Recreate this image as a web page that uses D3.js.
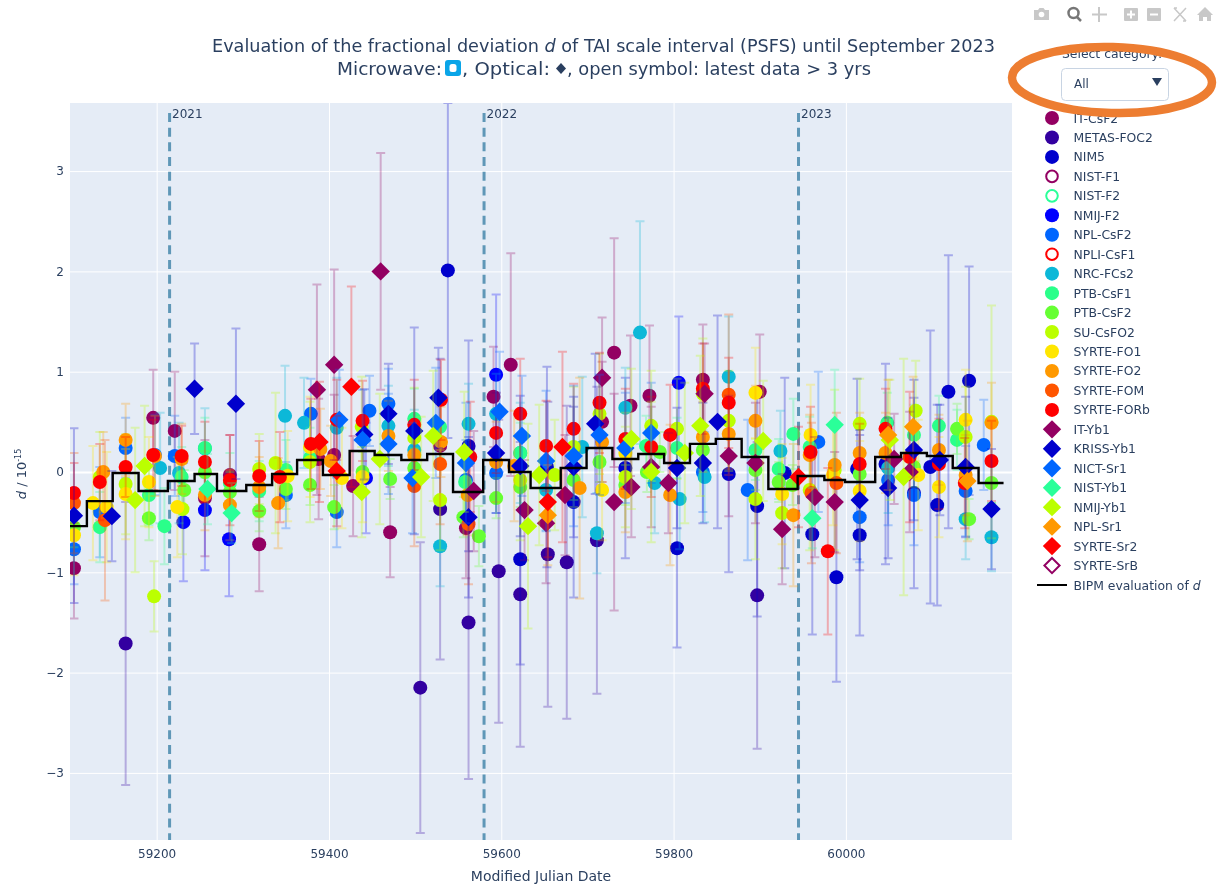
<!DOCTYPE html>
<html><head><meta charset="utf-8">
<script src="https://cdn.jsdelivr.net/npm/d3@7/dist/d3.min.js"></script>
<style>
html,body{margin:0;padding:0;background:#fff}
svg{display:block;filter:blur(0.45px)}
text{font-family:"DejaVu Sans",sans-serif;fill:#2a3f5f}
</style></head><body>
<div id="chart"></div>
<script>
const titleLine1 = ["Evaluation of the fractional deviation ", "d", " of TAI scale interval (PSFS) until September 2023"];
const xTicks = [59200, 59400, 59600, 59800, 60000];
const yTicks = [-3, -2, -1, 0, 1, 2, 3];
const yearMarks = [59215, 59580, 59945];
const yearLabels = ["2021", "2022", "2023"];

const IT_CsF2 = [[59104,-0.96,0.5],[59196,0.54,0.48],[59221,0.41,0.59],[59256,-0.26,0.58],[59285,-0.03,0.4],[59319,-0.72,0.47],[59388,0.13,0.6],[59406,0.17,0.6],[59428,-0.14,0.5],[59471,-0.6,0.45],[59529,0.26,0.5],[59559,-0.56,0.5],[59591,0.75,0.5],[59611,1.07,1.11],[59717,0.5,0.6],[59731,1.19,1.14],[59750,0.66,0.7],[59772,0.76,0.7],[59834,0.92,0.55],[59900,0.8,0.57]];
const METAS_FOC2 = [[59164,-1.71,1.41],[59506,-2.15,1.45],[59529,-0.37,1.5],[59562,-1.5,1.56],[59597,-0.99,1.51],[59622,-1.22,1.52],[59654,-0.82,1.52],[59676,-0.9,1.56],[59711,-0.68,1.53],[59897,-1.23,1.53]];
const NIM5 = [[59538,2.01,1.67],[59562,0.26,1.05],[59622,-0.87,1.05],[59653,0.05,1.0],[59684,-0.3,0.95],[59744,0.04,0.9],[59804,-0.76,0.99],[59864,-0.02,0.98],[59897,-0.34,1.1],[59929,-0.01,0.95],[59961,-0.62,1.0],[59989,-1.05,1.04],[60013,0.03,0.9],[60016,-0.63,1.0],[60046,0.08,1.0],[60079,-0.21,0.95],[60098,0.05,1.36],[60106,-0.33,1.0],[60119,0.8,1.36],[60143,0.91,1.14]];
const NIST_F1 = [];
const NIST_F2 = [];
const NMIJ_F2 = [[59231,-0.5,0.59],[59256,-0.38,0.6],[59284,-0.67,0.57],[59443,-0.06,0.55],[59594,0.97,0.8],[59806,0.89,0.66]];
const NPL_CsF2 = [[59104,-0.77,0.35],[59134,-0.4,0.45],[59164,0.24,0.3],[59198,0.17,0.4],[59221,0.16,0.4],[59350,-0.23,0.33],[59379,0.58,0.35],[59409,-0.4,0.35],[59447,0.61,0.35],[59469,0.68,0.35],[59559,-0.08,0.4],[59594,-0.01,0.4],[59834,0.0,0.4],[59886,-0.18,0.7],[59968,0.3,0.7],[60016,-0.45,0.45],[60049,-0.08,0.45],[60079,-0.23,0.5],[60139,-0.19,0.45],[60160,0.27,0.45]];
const NPLI_CsF1 = [];
const NRC_FCs2 = [[59204,0.04,0.55],[59226,-0.01,0.5],[59256,0.235,0.4],[59349,0.56,0.5],[59371,0.49,0.45],[59409,0.44,0.5],[59469,0.46,0.4],[59499,0.22,0.4],[59529,-0.74,0.4],[59562,0.48,0.4],[59594,0.58,0.4],[59622,0.19,0.5],[59652,-0.18,0.4],[59694,0.25,0.7],[59711,-0.61,0.4],[59744,0.64,0.4],[59761,1.39,1.11],[59778,-0.11,0.5],[59807,-0.27,0.5],[59836,-0.05,0.45],[59864,0.95,0.6],[59924,0.21,0.4],[60049,0.04,0.45],[60139,-0.47,0.4],[60169,-0.65,0.34]];
const PTB_CsF1 = [[59134,-0.55,0.35],[59191,-0.23,0.3],[59209,-0.54,0.38],[59229,-0.05,0.3],[59256,0.24,0.3],[59285,-0.11,0.3],[59319,-0.19,0.3],[59350,0.02,0.3],[59378,0.14,0.3],[59499,0.53,0.3],[59529,0.45,0.3],[59558,-0.1,0.35],[59622,0.19,0.3],[59768,0.26,0.3],[59804,0.24,0.3],[59895,0.22,0.3],[59922,0.03,0.3],[59939,0.38,0.35],[59958,0.25,0.3],[60048,0.49,0.3],[60079,0.37,0.3],[60108,0.46,0.3],[60129,0.32,0.3]];
const PTB_CsF2 = [[59104,-0.55,0.2],[59191,-0.46,0.22],[59232,-0.18,0.2],[59256,0.0,0.21],[59285,-0.2,0.2],[59319,-0.39,0.2],[59350,-0.17,0.2],[59378,-0.13,0.2],[59406,-0.35,0.22],[59439,0.0,0.2],[59471,-0.07,0.2],[59499,0.04,0.2],[59556,-0.45,0.2],[59574,-0.64,0.3],[59594,-0.26,0.2],[59622,-0.15,0.2],[59684,-0.08,0.2],[59714,0.1,0.2],[59744,-0.13,0.2],[59769,0.0,0.2],[59784,0.2,0.2],[59834,0.22,0.2],[59895,0.02,0.2],[59922,-0.1,0.2],[59938,-0.13,0.2],[60016,-0.02,0.2],[60079,0.05,0.2],[60129,0.43,0.25],[60143,-0.47,0.2],[60169,-0.11,0.2]];
const SU_CsFO2 = [[59134,-0.05,0.45],[59164,-0.12,0.5],[59197,-1.24,0.35],[59230,-0.37,0.45],[59319,0.03,0.35],[59338,0.09,0.7],[59378,0.1,0.6],[59438,0.45,0.5],[59499,0.34,0.5],[59529,-0.28,0.5],[59622,-0.08,0.6],[59662,-0.03,0.55],[59684,0.25,0.6],[59714,0.58,0.6],[59744,-0.05,0.5],[59774,0.46,0.55],[59804,0.43,0.5],[59834,0.78,0.55],[59864,0.51,0.5],[59895,-0.27,0.6],[59926,-0.41,0.55],[59958,-0.18,0.6],[59987,0.02,0.8],[60016,0.48,0.45],[60081,0.61,0.5],[60139,0.35,0.5],[60169,0.5,1.16]];
const SYRTE_FO1 = [[59104,-0.63,0.4],[59126,-0.31,0.57],[59142,-0.35,0.55],[59164,-0.22,0.45],[59191,-0.1,0.45],[59224,-0.35,0.5],[59352,-0.04,0.45],[59378,0.25,0.5],[59415,-0.06,0.5],[59439,-0.05,0.45],[59717,-0.18,0.5],[59744,0.19,0.4],[59895,0.79,0.45],[59926,-0.22,0.5],[59959,0.37,0.5],[59985,-0.03,0.5],[60016,-0.19,0.5],[60084,-0.03,0.55],[60108,-0.15,0.5],[60139,0.52,0.5]];
const SYRTE_FO2 = [[59138,0.0,0.4],[59164,0.32,0.36],[59198,0.16,0.4],[59229,0.13,0.35],[59256,-0.23,0.35],[59285,-0.33,0.35],[59319,-0.15,0.3],[59341,-0.31,0.45],[59390,0.23,0.4],[59402,0.11,0.35],[59469,0.36,0.35],[59499,0.17,0.3],[59530,0.3,0.35],[59561,-0.23,0.4],[59594,0.1,0.4],[59615,0.06,0.55],[59691,-0.16,1.1],[59717,0.3,0.4],[59744,-0.2,0.4],[59796,-0.23,0.7],[59834,0.35,0.35],[59864,0.38,0.35],[59895,0.51,0.35],[59939,-0.43,0.71],[59958,0.17,0.4],[59987,0.07,0.4],[60016,0.19,0.4],[60046,0.19,0.4],[60108,0.22,0.35],[60139,-0.03,0.4],[60169,0.49,0.4]];
const SYRTE_FOM = [[59104,-0.31,0.5],[59140,-0.48,0.8],[59499,-0.14,0.6],[59529,0.08,0.6],[59562,-0.52,0.6],[59864,0.77,0.8],[59960,-0.21,0.7],[59989,-0.11,0.7]];
const SYRTE_FORb = [[59104,-0.21,0.3],[59134,-0.1,0.38],[59164,0.05,0.3],[59196,0.17,0.35],[59229,0.16,0.3],[59256,0.1,0.4],[59285,-0.08,0.45],[59319,-0.04,0.35],[59343,-0.05,0.45],[59379,0.28,0.45],[59409,0.52,0.4],[59439,0.51,0.4],[59499,0.47,0.45],[59530,0.72,0.4],[59564,0.15,0.55],[59594,0.39,0.4],[59622,0.58,0.55],[59652,0.26,0.45],[59684,0.43,0.45],[59714,0.69,0.5],[59744,0.33,0.5],[59774,0.25,0.5],[59796,0.37,0.5],[59834,0.83,0.45],[59864,0.69,0.45],[59959,0.2,0.45],[59979,-0.79,0.83],[60016,0.08,0.4],[60046,0.43,0.4],[60074,0.15,0.65],[60108,0.08,0.45],[60138,-0.11,0.45],[60169,0.11,0.4]];
const IT_Yb1 = [[59386,0.82,1.05],[59406,1.07,0.95],[59460,2.0,1.18],[59568,-0.19,0.6],[59627,-0.38,0.5],[59652,-0.51,0.6],[59674,-0.23,0.6],[59717,0.94,0.6],[59731,-0.3,1.08],[59751,-0.15,0.5],[59774,0.05,0.6],[59794,-0.11,0.5],[59836,0.78,0.5],[59864,0.16,0.6],[59895,0.09,0.6],[59926,-0.57,0.55],[59964,-0.25,0.6],[59987,-0.3,0.5],[60056,0.13,0.45],[60074,0.0,0.6]];
const KRISS_Yb1 = [[59104,-0.435,0.87],[59148,-0.44,0.45],[59244,0.83,0.45],[59292,0.68,0.75],[59441,0.375,0.45],[59469,0.58,0.5],[59499,0.41,1.03],[59527,0.74,0.5],[59562,-0.45,0.8],[59594,0.19,0.6],[59622,0.06,0.7],[59684,0.05,0.7],[59709,0.48,0.7],[59804,0.04,0.6],[59834,0.09,0.6],[59851,0.5,1.06],[60016,-0.28,0.7],[60049,-0.16,0.7],[60079,0.22,0.7],[60109,0.12,0.55],[60139,0.05,0.7],[60169,-0.37,0.6]];
const NICT_Sr1 = [[59412,0.52,0.5],[59439,0.32,0.5],[59469,0.28,0.5],[59497,-0.06,0.55],[59524,0.49,0.55],[59559,0.09,0.6],[59598,0.6,0.6],[59624,0.36,0.6],[59652,0.11,0.7],[59684,0.16,0.7],[59714,0.37,0.6],[59744,0.24,0.55],[59774,0.39,0.5]];
const NIST_Yb1 = [[59259,-0.17,0.35],[59287,-0.41,0.3],[59961,-0.46,0.3],[59987,0.47,0.55]];
const NMIJ_Yb1 = [[59175,-0.28,0.72],[59186,0.06,0.6],[59438,-0.2,0.45],[59459,0.13,0.65],[59507,-0.05,0.6],[59521,0.36,0.65],[59557,0.2,0.6],[59631,-0.54,1.02],[59644,-0.03,0.7],[59751,0.33,0.7],[59774,0.0,0.7],[59813,0.19,0.7],[59831,0.46,0.7],[59904,0.31,0.6],[60051,0.32,0.6],[60067,-0.05,1.18]];
const NPL_Sr1 = [[59654,-0.43,0.5],[60049,0.37,0.55],[60078,0.45,0.5],[60141,-0.09,0.6]];
const SYRTE_Sr2 = [[59389,0.3,0.6],[59409,0.01,0.55],[59426,0.85,1.0],[59654,-0.3,0.55],[59671,0.25,0.95],[59945,-0.05,0.5]];
const SYRTE_SrB = [];

const bipmEdges = [59094,59119,59149,59179,59213,59244,59270,59304,59334,59363,59393,59424,59453,59484,59514,59544,59579,59609,59634,59669,59699,59729,59759,59789,59819,59849,59879,59910,59944,59975,59999,60034,60064,60094,60124,60154,60183];
const bipmLevels = [-0.54,-0.29,-0.01,-0.19,-0.09,-0.02,-0.19,-0.13,-0.02,0.12,-0.03,0.21,0.17,0.12,0.18,-0.2,0.12,0.0,-0.16,0.04,0.24,0.13,0.18,0.09,0.28,0.33,0.15,-0.17,-0.04,-0.08,-0.1,0.15,0.19,0.16,0.04,-0.11];

const seriesNames = ["IT-CsF2","METAS-FOC2","NIM5","NIST-F1","NIST-F2","NMIJ-F2","NPL-CsF2","NPLI-CsF1","NRC-FCs2","PTB-CsF1","PTB-CsF2","SU-CsFO2","SYRTE-FO1","SYRTE-FO2","SYRTE-FOM","SYRTE-FORb","IT-Yb1","KRISS-Yb1","NICT-Sr1","NIST-Yb1","NMIJ-Yb1","NPL-Sr1","SYRTE-Sr2","SYRTE-SrB"];
const seriesData = [IT_CsF2,METAS_FOC2,NIM5,NIST_F1,NIST_F2,NMIJ_F2,NPL_CsF2,NPLI_CsF1,NRC_FCs2,PTB_CsF1,PTB_CsF2,SU_CsFO2,SYRTE_FO1,SYRTE_FO2,SYRTE_FOM,SYRTE_FORb,IT_Yb1,KRISS_Yb1,NICT_Sr1,NIST_Yb1,NMIJ_Yb1,NPL_Sr1,SYRTE_Sr2,SYRTE_SrB];
const seriesColors = ["#930062","#3300a0","#0000cc","#930062","#2aff99","#0000ff","#0066ff","#ff0000","#0cb8d8","#2aff8a","#66ff33","#bbff00","#ffe600","#ff9900","#ff5500","#ff0000","#930062","#0000cc","#0066ff","#2aff99","#bbff00","#ff9900","#ff0000","#930062"];
const seriesShapes = ["c","c","c","co","co","c","c","co","c","c","c","c","c","c","c","c","d","d","d","d","d","d","d","do"];

const W = 1217, H = 886;
const plot = {l:70, r:1012, t:103, b:840};
const x = d3.scaleLinear().domain([59099.4,60192.8]).range([plot.l, plot.r]);
const y = d3.scaleLinear().domain([-3.669,3.679]).range([plot.b, plot.t]);
const svg = d3.select("#chart").append("svg").attr("width",W).attr("height",H).attr("viewBox",`0 0 ${W} ${H}`);
svg.append("defs").append("clipPath").attr("id","clip").append("rect").attr("x",plot.l).attr("y",plot.t).attr("width",plot.r-plot.l).attr("height",plot.b-plot.t);

svg.append("rect").attr("x",plot.l).attr("y",plot.t).attr("width",plot.r-plot.l).attr("height",plot.b-plot.t).attr("fill","#e5ecf6");

// axes and grid
const gx = svg.append("g").attr("transform",`translate(0,${plot.b})`).call(d3.axisBottom(x).tickValues(xTicks).tickFormat(d3.format("d")).tickSize(-(plot.b-plot.t)).tickPadding(9));
gx.select(".domain").remove();
gx.selectAll("line").attr("stroke","#fff").attr("stroke-width",1);
gx.selectAll("text").attr("font-size",12).style("font-family","'DejaVu Sans'").style("fill","#2a3f5f");
const gy = svg.append("g").attr("transform",`translate(${plot.l},0)`).call(d3.axisLeft(y).tickValues(yTicks).tickFormat(d=>d<0?"\u2212"+(-d):""+d).tickSize(-(plot.r-plot.l)).tickPadding(6));
gy.select(".domain").remove();
gy.selectAll("line").attr("stroke","#fff").attr("stroke-width",d=>d===0?2:1);
gy.selectAll("text").attr("font-size",12).style("font-family","'DejaVu Sans'").style("fill","#2a3f5f");

const g = svg.append("g").attr("clip-path","url(#clip)");

// year markers
g.selectAll("line.year").data(yearMarks).join("line").attr("class","year")
  .attr("x1",d=>x(d)).attr("x2",d=>x(d)).attr("y1",y(3.58)).attr("y2",plot.b)
  .attr("stroke","#5f97b7").attr("stroke-width",3).attr("stroke-dasharray","9,5.7");
g.selectAll("text.year").data(yearMarks).join("text").attr("class","year")
  .attr("x",d=>x(d)+2.5).attr("y",y(3.58)+5).attr("font-size",12).text((d,i)=>yearLabels[i]);

// series
seriesData.forEach((data,i)=>{
  const col = seriesColors[i], shp = seriesShapes[i];
  const s = g.append("g");
  const bars = s.append("g").attr("stroke",col).attr("stroke-opacity",0.28).attr("stroke-width",2).attr("fill","none");
  data.forEach(([m,v,u])=>{
    const px = x(m);
    bars.append("path").attr("d",`M${px},${y(v-u)}V${y(v+u)}M${px-4.5},${y(v+u)}H${px+4.5}M${px-4.5},${y(v-u)}H${px+4.5}`);
  });
  const sym = shp[0]==="c" ? d3.symbolCircle : d3.symbolDiamond;
  s.selectAll("path.m").data(data).join("path").attr("class","m")
    .attr("transform",d=>`translate(${x(d[0])},${y(d[1])})`)
    .attr("d",shp[0]==="c" ? d3.symbol(sym,Math.PI*49)() : `M0,-9.2L9.2,0L0,9.2L-9.2,0Z`)
    .attr("fill",col);
});

// BIPM step line
const bipmPts = bipmLevels.map((v,i)=>[bipmEdges[i],v]);
bipmPts.push([bipmEdges[bipmEdges.length-1],bipmLevels[bipmLevels.length-1]]);
g.append("path").datum(bipmPts).attr("d",d3.line().x(d=>x(d[0])).y(d=>y(d[1])).curve(d3.curveStepAfter))
  .attr("fill","none").attr("stroke","#000").attr("stroke-width",2.4);

// titles
const t1 = svg.append("text").attr("x",603.5).attr("y",52).attr("text-anchor","middle").attr("font-size",17.5).attr("textLength",783).attr("lengthAdjust","spacingAndGlyphs");
titleLine1.forEach((s,i)=>t1.append("tspan").attr("font-style",i===1?"italic":"normal").text(s));
svg.append("text").attr("x",337).attr("y",75).attr("font-size",17.5).attr("textLength",105).attr("lengthAdjust","spacingAndGlyphs").text("Microwave:");
svg.append("rect").attr("x",445).attr("y",60).attr("width",16).attr("height",16).attr("rx",3).attr("fill","#0aa5e8");
svg.append("rect").attr("x",449.5).attr("y",64).attr("width",7).attr("height",8).attr("rx",2.5).attr("fill","#fff");
svg.append("text").attr("x",462).attr("y",75).attr("font-size",17.5).attr("textLength",88).attr("lengthAdjust","spacingAndGlyphs").text(", Optical:");
svg.append("path").attr("d","M561,63L566,68.5L561,74L556,68.5Z").attr("fill","#2a3f5f");
svg.append("text").attr("x",567).attr("y",75).attr("font-size",17.5).attr("textLength",304).attr("lengthAdjust","spacingAndGlyphs").text(", open symbol: latest data > 3 yrs");

const xt = svg.append("text").attr("x",541).attr("y",881).attr("text-anchor","middle").attr("font-size",14).text("Modified Julian Date");
const yt = svg.append("text").attr("transform","translate(26,474) rotate(-90)").attr("text-anchor","middle").attr("font-size",13);
yt.append("tspan").attr("font-style","italic").text("d");
yt.append("tspan").text(" / 10");
yt.append("tspan").attr("font-size",8).attr("dy",-5).text("-15");

// legend
const legY = d3.scalePoint().domain(seriesNames.concat(["BIPM evaluation of d"])).range([118,585]);
const leg = svg.append("g");
seriesNames.forEach((n,i)=>{
  const ly = legY(n), col = seriesColors[i], shp = seriesShapes[i];
  const open = shp.length>1;
  const lg = leg.append("g").attr("transform",`translate(1052,${ly})`);
  const mk = shp[0]==="c" ? lg.append("circle").attr("r",open?5.8:7) : lg.append("path").attr("d",open?"M0,-7.6L7.6,0L0,7.6L-7.6,0Z":"M0,-9.2L9.2,0L0,9.2L-9.2,0Z");
  mk.attr("fill",open?"none":col).attr("stroke",open?col:"none").attr("stroke-width",open?2:0);
  leg.append("text").attr("x",1073.5).attr("y",ly+4.5).attr("font-size",12.4).text(n);
});
const by = legY("BIPM evaluation of d");
leg.append("line").attr("x1",1037).attr("x2",1067).attr("y1",by).attr("y2",by).attr("stroke","#000").attr("stroke-width",2);
const bt = leg.append("text").attr("x",1073.5).attr("y",by+4.5).attr("font-size",12.4);
bt.append("tspan").text("BIPM evaluation of ");
bt.append("tspan").attr("font-style","italic").text("d");

// dropdown
svg.append("text").attr("x",1062).attr("y",58).attr("font-size",12.4).text("Select category:");
svg.append("rect").attr("x",1061.5).attr("y",68.5).attr("width",107).attr("height",32).attr("rx",4).attr("fill","#fff").attr("stroke","#c8d4e3");
svg.append("text").attr("x",1074).attr("y",87.5).attr("font-size",12).text("All");
svg.append("path").attr("d","M1152,78H1162L1157,86Z").attr("fill","#2a3f5f");
svg.append("ellipse").attr("transform","rotate(1.5 1112 80)").attr("cx",1112).attr("cy",80).attr("rx",100).attr("ry",33).attr("fill","none").attr("stroke","#ed7d31").attr("stroke-width",8.5);

// modebar
const mb = svg.append("g").attr("fill","#c8c8c8");
mb.append("path").attr("d","M1034,10h4l1.5,-2h4l1.5,2h4v10h-15z");
mb.append("circle").attr("cx",1041.5).attr("cy",14.5).attr("r",2.8).attr("fill","#fff");
mb.append("circle").attr("cx",1073.5).attr("cy",13).attr("r",5).attr("fill","none").attr("stroke","#777").attr("stroke-width",2.5);
mb.append("path").attr("d","M1077,17l4,4").attr("stroke","#777").attr("stroke-width",2.5);
mb.append("path").attr("d","M1099,7v15M1092,14.5h15").attr("stroke","#c8c8c8").attr("stroke-width",2);
mb.append("rect").attr("x",1124).attr("y",8).attr("width",14).attr("height",13).attr("rx",1);
mb.append("path").attr("d","M1131,10.5v8M1127,14.5h8").attr("stroke","#fff").attr("stroke-width",2);
mb.append("rect").attr("x",1147).attr("y",8).attr("width",14).attr("height",13).attr("rx",1);
mb.append("path").attr("d","M1150,14.5h8").attr("stroke","#fff").attr("stroke-width",2);
mb.append("path").attr("d","M1174,8l12,13M1186,8l-12,13M1174,8h3M1186,21h-3").attr("stroke","#c8c8c8").attr("stroke-width",1.5).attr("fill","none");
mb.append("path").attr("d","M1205,7l8,8h-2v6h-4v-4h-4v4h-4v-6h-2z");
</script>
</body></html>
